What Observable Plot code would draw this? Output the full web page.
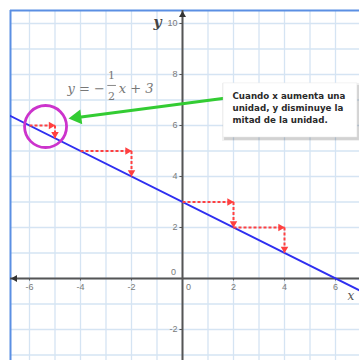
<!DOCTYPE html>
<html><head><meta charset="utf-8">
<script src="https://cdn.jsdelivr.net/npm/d3@7"></script>
<script src="https://cdn.jsdelivr.net/npm/@observablehq/plot@0.6"></script>
<style>body{margin:0;background:#fff}</style>
</head><body><div id="chart"></div>
<script>
// ---- data ----
const xDomain = [-6.745, 6.941];
const yDomain = [-3.216, 10.51];
const gridXs = [-6,-5,-4,-3,-2,-1,0,1,2,3,4,5,6];
const gridYs = [-3,-2,-1,0,1,2,3,4,5,6,7,8,9,10];
const xTickVals = [-6,-4,-2,2,4,6];
const yTickVals = [-2,2,4,6,8,10];
const lineXs = [-7, 7];
const lineYs = [6.5, -0.5];
const stepX0 = [-6, -4, 0, 2];
const stepY0 = [6, 5, 3, 2];
const stepRun = [1, 2, 2, 2];
const stepDrop = [0.5, 1, 1, 1];
const circleCenter = [{x: -5.37, y: 5.96}];
const greenXs = [1.57, -4.2];
const greenYs = [7.06, 6.305];
const greenTip = [{x: -4.47, y: 6.27}];
const boxX = [1.61, 6.86];
const boxY = [5.53, 7.65];
const boxText = "Cuando x aumenta una\nunidad, y disminuye la\nmitad de la unidad.";
const eqParts = [
  {t: "y = −", x: -4.51, y: 7.45, a: "start"},
  {t: "1", x: -2.78, y: 7.96, a: "middle"},
  {t: "2", x: -2.78, y: 7.12, a: "middle"},
  {t: "x + 3", x: -2.5, y: 7.45, a: "start"}
];
const fracBar = {x1: -2.95, x2: -2.61, y: 7.57};

// ---- derived tables ----
const hSeg = stepX0.map((x, i) => ({x1: x, y1: stepY0[i], x2: x + stepRun[i], y2: stepY0[i]}));
const vSeg = stepX0.map((x, i) => ({x1: x + stepRun[i], y1: stepY0[i], x2: x + stepRun[i], y2: stepY0[i] - stepDrop[i]}));
const lineData = lineXs.map((x, i) => ({x, y: lineYs[i]}));
const greenData = greenXs.map((x, i) => ({x, y: greenYs[i]}));
const box = [{x1: boxX[0], x2: boxX[1], y1: boxY[0], y2: boxY[1]}];

const red = "#ff4040";
const gridColor = "#d5e4f3";
const axisColor = "#555";
const labelColor = "#7a7a7a";

const chart = Plot.plot({
  width: 359, height: 360,
  marginLeft: 10, marginTop: 10, marginRight: 0, marginBottom: 0,
  x: {domain: xDomain, axis: null},
  y: {domain: yDomain, axis: null},
  style: {background: "#fff", fontFamily: "Liberation Sans, Arial, sans-serif"},
  marks: [
    Plot.ruleX(gridXs, {stroke: gridColor, strokeWidth: 1.3}),
    Plot.ruleY(gridYs, {stroke: gridColor, strokeWidth: 1.3}),
    // frame (left & top)
    Plot.ruleX([xDomain[0]], {stroke: "#5b8fe3", strokeWidth: 2}),
    Plot.ruleY([yDomain[1]], {stroke: "#5b8fe3", strokeWidth: 2}),
    // axes
    Plot.ruleY([0], {stroke: axisColor, strokeWidth: 2}),
    Plot.ruleX([0], {stroke: axisColor, strokeWidth: 2}),
    Plot.dot([{x: xDomain[0], y: 0}], {x: "x", y: "y", symbol: "triangle", r: 2.6, rotate: 270, dx: 4.5, fill: "#333", stroke: "none"}),
    Plot.dot([{x: 0, y: yDomain[1]}], {x: "x", y: "y", symbol: "triangle", r: 2.6, rotate: 0, dy: 4.5, fill: "#333", stroke: "none"}),
    Plot.ruleX(xTickVals, {x: d => d, y1: 0, y2: -0.1, stroke: axisColor, strokeWidth: 1}),
    Plot.ruleY(yTickVals, {y: d => d, x1: 0, x2: -0.1, stroke: axisColor, strokeWidth: 1}),
    // tick labels
    Plot.text(xTickVals, {x: d => d, y: -0.35, text: d => String(d), fontSize: 9, fill: labelColor}),
    Plot.text(yTickVals, {x: -0.2, y: d => d, text: d => String(d), fontSize: 9, fill: labelColor, textAnchor: "end"}),
    Plot.text([0], {x: -0.35, y: 0.24, text: d => String(d), fontSize: 9, fill: labelColor}),
    Plot.text([0], {x: 0.24, y: -0.35, text: d => String(d), fontSize: 9, fill: labelColor}),
    // axis names
    Plot.text(["y"], {x: -0.98, y: 10.04, text: d => d, fontSize: 14, fontWeight: "bold", fontStyle: "italic", fontFamily: "DejaVu Serif, serif", fill: "#444"}),
    Plot.text(["x"], {x: 6.6, y: -0.71, text: d => d, fontSize: 12, fontStyle: "italic", fontFamily: "DejaVu Serif, serif", fill: "#555"}),
    // main line
    Plot.line(lineData, {x: "x", y: "y", stroke: "#2f2ff0", strokeWidth: 2, clip: true}),
    // red dashed steps
    Plot.link(hSeg, {x1: "x1", y1: "y1", x2: "x2", y2: "y2", stroke: red, strokeWidth: 2, strokeDasharray: "3,2"}),
    Plot.link(vSeg, {x1: "x1", y1: "y1", x2: "x2", y2: "y2", stroke: red, strokeWidth: 2, strokeDasharray: "3,2"}),
    Plot.dot(hSeg, {x: "x2", y: "y2", symbol: "triangle", r: 2.8, rotate: 90, dx: -4, fill: red, stroke: "none"}),
    Plot.dot(vSeg, {x: "x2", y: "y2", symbol: "triangle", r: 2.8, rotate: 180, dy: -4, fill: red, stroke: "none"}),
    // magenta circle
    Plot.dot(circleCenter, {x: "x", y: "y", r: 21, stroke: "#cc33cc", strokeWidth: 2.8, fill: "none"}),
    // green arrow
    Plot.line(greenData, {x: "x", y: "y", stroke: "#33cc33", strokeWidth: 3}),
    Plot.dot(greenTip, {x: "x", y: "y", symbol: "triangle", r: 5.5, rotate: 262.6, dx: 8.5, dy: -1.1, fill: "#33cc33", stroke: "none"}),
    // callout box with shadow
    Plot.rect(box, {x1: "x1", x2: "x2", y1: "y1", y2: "y2", dx: 1, dy: 2, inset: -2, fill: "#000", fillOpacity: 0.06}),
    Plot.rect(box, {x1: "x1", x2: "x2", y1: "y1", y2: "y2", dx: 1.5, dy: 2.5, inset: -0.5, fill: "#000", fillOpacity: 0.12}),
    Plot.rect(box, {x1: "x1", x2: "x2", y1: "y1", y2: "y2", fill: "#fff", stroke: "#e8e8e8", strokeWidth: 0.5}),
    Plot.text([boxText], {x: 1.96, y: 6.72, text: d => d, textAnchor: "start", lineAnchor: "middle", fontSize: 8.7, fontWeight: "bold", fontFamily: "DejaVu Sans, sans-serif", lineHeight: 1.35, fill: "#2a2a2a"}),
    // equation
    Plot.text(eqParts, {x: "x", y: "y", text: "t", textAnchor: "start", fontSize: 13, fontStyle: "italic", fontFamily: "DejaVu Serif, serif", fill: "#777", filter: d => d.a === "start"}),
    Plot.text(eqParts, {x: "x", y: "y", text: "t", textAnchor: "middle", fontSize: 11, fontFamily: "DejaVu Serif, serif", fill: "#777", filter: d => d.a === "middle"}),
    Plot.link([fracBar], {x1: "x1", x2: "x2", y1: "y", y2: "y", stroke: "#888", strokeWidth: 1})
  ]
});
document.getElementById("chart").appendChild(chart);
</script>
</body></html>
